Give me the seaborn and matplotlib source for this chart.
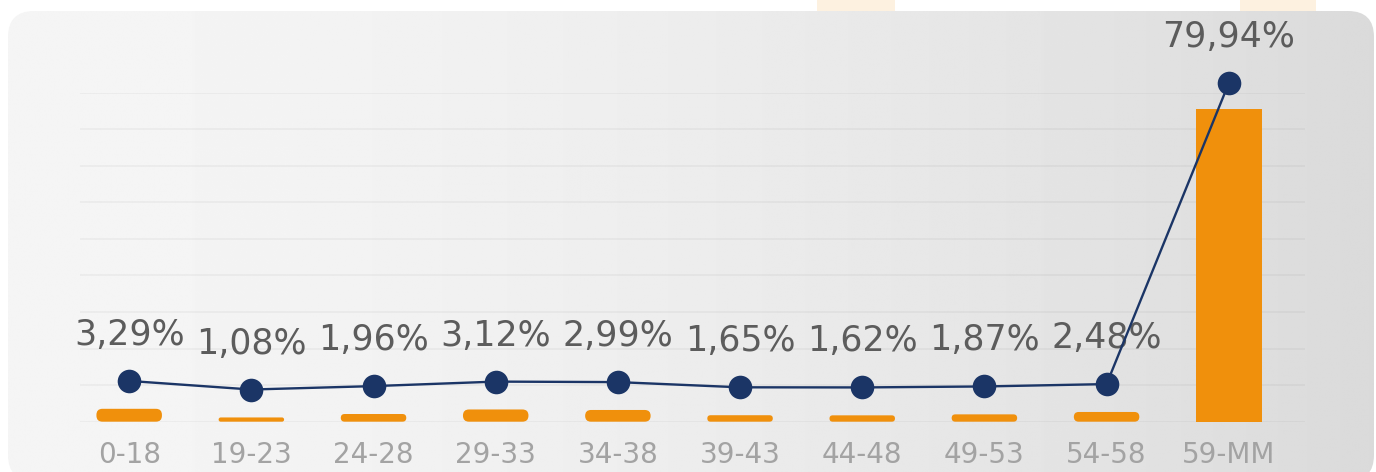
import numpy as np
import pandas as pd
import seaborn as sns
import matplotlib.pyplot as plt
from matplotlib.patches import FancyBboxPatch, Rectangle

# data
age_groups = ["0-18", "19-23", "24-28", "29-33", "34-38",
              "39-43", "44-48", "49-53", "54-58", "59-MM"]
shares = [3.29, 1.08, 1.96, 3.12, 2.99, 1.65, 1.62, 1.87, 2.48, 79.94]
share_labels = [f"{v:.2f}%".replace(".", ",") for v in shares]

ORANGE = "#f0900c"
NAVY = "#1b3566"
LABEL_GREY = "#5c5c5c"
TICK_GREY = "#a3a3a3"

sns.set_theme(style="white")
plt.rcParams["font.family"] = ["DejaVu Sans"]

fig = plt.figure(figsize=(13.76, 4.72), dpi=100)
fig.patch.set_facecolor("white")

# rounded grey panel with a left-to-right gradient (darker towards the right)
bg = fig.add_axes([0, 0, 1, 1], zorder=-10)
bg.set_xlim(0, 1376)
bg.set_ylim(472, 0)
bg.axis("off")
t = np.linspace(0, 1, 512)
grad = (245 - 27 * t ** 1.7) / 255
img = bg.imshow(np.tile(grad, (2, 1)), cmap="gray", vmin=0, vmax=1,
                extent=[0, 1376, 472, 0], aspect="auto", interpolation="bilinear")
panel = FancyBboxPatch((8, 11), 1366, 470, boxstyle="round,pad=0,rounding_size=26",
                       facecolor="none", edgecolor="none")
bg.add_patch(panel)
img.set_clip_path(panel)
bg.add_patch(Rectangle((817, 0), 78, 11, color="#fdf1e0", lw=0))
bg.add_patch(Rectangle((1240, 0), 76, 11, color="#fdf1e0", lw=0))

# bars
ax = fig.add_axes([0.0581, 0.1066, 0.8903, 0.697])
ax.set_facecolor("none")
df = pd.DataFrame({"age": age_groups, "share": shares})
sns.barplot(data=df, x="age", y="share", color=ORANGE, width=0.536,
            saturation=1, ax=ax)
ax.set_xlim(-0.403, 9.624)
ax.set_ylim(0, 84)

# swap bars for rounded ones (small bars look like pills)
p0 = ax.transData.transform((0, 0))
p1 = ax.transData.transform((1, 1))
sx, sy = p1[0] - p0[0], p1[1] - p0[1]
for bar in list(ax.patches):
    x, y, w, h = bar.get_x(), bar.get_y(), bar.get_width(), bar.get_height()
    bar.remove()
    h_px = h * sy
    r_px = min(h_px / 2, 6) if h_px < 40 else 0
    if r_px > 0:
        style = f"round,pad=0,rounding_size={r_px / sx}"
    else:
        style = "square,pad=0"
    ax.add_patch(FancyBboxPatch((x, y), w, h, boxstyle=style,
                                mutation_aspect=sx / sy,
                                facecolor=ORANGE, edgecolor="none", zorder=2))

ax.set_yticks(np.linspace(0, 84, 10))
ax.set_yticklabels([])
ax.grid(axis="y", color="black", alpha=0.04, lw=1.3)
ax.set_axisbelow(True)
ax.tick_params(axis="y", length=0)
ax.tick_params(axis="x", length=0, pad=14, labelsize=20, labelcolor=TICK_GREY)
ax.set_xlabel("")
ax.set_ylabel("")
sns.despine(ax=ax, left=True, bottom=True)

# line sits on its own, slightly shifted scale
ax2 = ax.twinx()
ax2.set_ylim(-7.2, 77.5)
sns.lineplot(x=np.arange(len(shares)), y=shares, ax=ax2, color=NAVY, lw=1.7,
             marker="o", markersize=17, markeredgewidth=0, clip_on=False)
for i, (v, lab) in enumerate(zip(shares, share_labels)):
    ax2.annotate(lab, (i, v), xytext=(0, 36), textcoords="offset pixels",
                 ha="center", va="baseline", fontsize=25, color=LABEL_GREY,
                 annotation_clip=False, zorder=1.5)
ax2.set_yticks([])
ax2.set_ylabel("")
sns.despine(ax=ax2, left=True, bottom=True, right=True)

fig.savefig("out.png", dpi=100)
